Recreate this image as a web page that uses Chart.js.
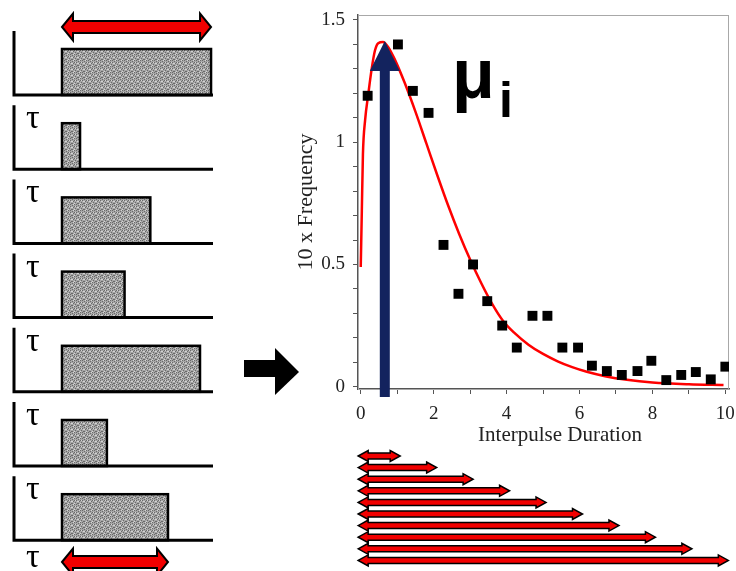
<!DOCTYPE html>
<html lang="en">
<head>
  <meta charset="UTF-8">
  <title>Interpulse Duration histogram</title>
  <script src="https://cdn.jsdelivr.net/npm/chart.js"></script>
  <style>
    html, body { margin: 0; padding: 0; background: #fff; }
    canvas { display: block; }
  </style>
</head>
<body>
<canvas id="myChart" width="736" height="571"></canvas>
<script>
  // histogram bins (10 x frequency)
  const binX = [0.19, 1.02, 1.43, 1.86, 2.27, 2.68, 3.08, 3.47, 3.88, 4.28, 4.71, 5.12,
                5.53, 5.96, 6.34, 6.75, 7.16, 7.59, 7.97, 8.38, 8.79, 9.19, 9.60, 10.0];
  const binFreq = [1.19, 1.40, 1.21, 1.12, 0.58, 0.38, 0.50, 0.35, 0.25, 0.16, 0.29, 0.29,
                   0.16, 0.16, 0.086, 0.064, 0.048, 0.064, 0.106, 0.027, 0.048, 0.06, 0.03, 0.082];

  // fitted density
  const fitX = [0, 0.03, 0.06, 0.12, 0.21, 0.3, 0.39, 0.48, 0.61, 0.75, 0.93, 1.2, 1.5, 1.8,
                2.1, 2.4, 2.7, 3.0, 3.3, 3.6, 3.9, 4.2, 4.6, 5.0, 5.4, 5.8, 6.2, 6.7,
                7.3, 8.0, 9.0, 9.95];
  const fitY = [0.49, 0.72, 0.95, 1.09, 1.2, 1.3, 1.375, 1.405, 1.41, 1.39, 1.34, 1.245, 1.125, 0.995,
                0.865, 0.74, 0.625, 0.52, 0.425, 0.34, 0.27, 0.222, 0.172, 0.134, 0.104, 0.08, 0.061, 0.043,
                0.028, 0.017, 0.01, 0.007];

  // mode of the fit (blue arrow)
  const modeX = 0.66;
  const modeY = 1.414;

  // axis ticks
  const xTicks = [0, 1, 2, 3, 4, 5, 6, 7, 8, 9, 10];
  const xTickLabels = [0, 2, 4, 6, 8, 10];
  const yTicks = [0, 0.1, 0.2, 0.3, 0.4, 0.5, 0.6, 0.7, 0.8, 0.9, 1, 1.1, 1.2, 1.3, 1.4, 1.5];
  const yTickLabels = [0, 0.5, 1, 1.5];

  // schematic pulses on the left (relative lengths) and interval arrows below the plot
  const pulseLengths = [4.05, 0.49, 2.4, 1.7, 3.75, 1.22, 2.88];
  const intervalArrows = [1, 2, 3, 4, 5, 6, 7, 8, 9, 10];

  const RED = '#f20000';
  const NAVY = '#13235e';

  // deterministic speckle tile for the grey pulse boxes
  const tile = document.createElement('canvas');
  tile.width = 6; tile.height = 6;
  const tctx = tile.getContext('2d');
  tctx.fillStyle = '#a6a6a6';
  tctx.fillRect(0, 0, 6, 6);
  tctx.fillStyle = '#6a6a6a';
  [[0,1],[2,0],[4,2],[1,3],[3,4],[5,5],[0,5],[4,0],[2,2]].forEach(p => tctx.fillRect(p[0], p[1], 1, 1));
  tctx.fillStyle = '#d4d4d4';
  [[1,0],[3,2],[5,3],[2,5],[0,3]].forEach(p => tctx.fillRect(p[0], p[1], 1, 1));

  function dblArrow(ctx, x0, x1, y, shaftH, headH, headL, lw) {
    ctx.beginPath();
    ctx.moveTo(x0, y);
    ctx.lineTo(x0 + headL, y - headH / 2);
    ctx.lineTo(x0 + headL, y - shaftH / 2);
    ctx.lineTo(x1 - headL, y - shaftH / 2);
    ctx.lineTo(x1 - headL, y - headH / 2);
    ctx.lineTo(x1, y);
    ctx.lineTo(x1 - headL, y + headH / 2);
    ctx.lineTo(x1 - headL, y + shaftH / 2);
    ctx.lineTo(x0 + headL, y + shaftH / 2);
    ctx.lineTo(x0 + headL, y + headH / 2);
    ctx.closePath();
    ctx.fillStyle = RED;
    ctx.fill();
    ctx.lineWidth = lw;
    ctx.strokeStyle = '#000';
    ctx.lineJoin = 'miter';
    ctx.stroke();
  }

  const overlay = {
    id: 'overlay',
    beforeDatasetsDraw(chart) {
      const {ctx, chartArea: a} = chart;
      ctx.save();
      ctx.strokeStyle = '#a8a8a8';
      ctx.lineWidth = 1;
      ctx.strokeRect(a.left + 0.5, a.top + 0.5, a.right - a.left - 1, a.bottom - a.top);
      ctx.restore();
    },
    afterDatasetsDraw(chart) {
      const {ctx} = chart;
      const xs = chart.scales.x, ys = chart.scales.y;
      ctx.save();
      // blue arrow at the mode
      const ax = xs.getPixelForValue(modeX);
      const tipY = ys.getPixelForValue(modeY);
      ctx.fillStyle = NAVY;
      ctx.fillRect(ax - 5, tipY + 28, 10, 397 - (tipY + 28));
      ctx.beginPath();
      ctx.moveTo(ax, tipY);
      ctx.lineTo(ax + 15, tipY + 30);
      ctx.lineTo(ax - 15, tipY + 30);
      ctx.closePath();
      ctx.fill();
      // mu_i label
      ctx.fillStyle = '#000';
      ctx.textBaseline = 'alphabetic';
      ctx.textAlign = 'left';
      ctx.font = 'bold 70px "Liberation Sans"';
      ctx.fillText('μ', 452, 98);
      ctx.font = 'bold 50px "Liberation Sans"';
      ctx.fillText('i', 499, 117);
      ctx.restore();
    },
    afterDraw(chart) {
      const {ctx} = chart;
      const xs = chart.scales.x;
      ctx.save();

      // axis titles
      ctx.fillStyle = '#222';
      ctx.textAlign = 'center';
      ctx.textBaseline = 'middle';
      ctx.font = '21px "Liberation Serif"';
      ctx.fillText('Interpulse Duration', 560, 435);
      ctx.save();
      ctx.translate(306, 202);
      ctx.rotate(-Math.PI / 2);
      ctx.font = '22px "Liberation Serif"';
      ctx.fillText('10 x Frequency', 0, 0);
      ctx.restore();

      // interval arrows under the plot, on the same x scale
      const x0 = xs.getPixelForValue(-0.07);
      intervalArrows.forEach((d, i) => {
        dblArrow(ctx, x0, xs.getPixelForValue(d) + 3, 456 + i * 11.6, 6, 11, 10, 1.5);
      });

      // pulse panels on the left
      const grey = ctx.createPattern(tile, 'repeat');
      const unit = 36.8;
      pulseLengths.forEach((len, i) => {
        const base = 95 + i * 74.2;
        const w = len * unit;
        ctx.fillStyle = grey;
        ctx.fillRect(62, base - 46, w, 46);
        ctx.strokeStyle = '#000';
        ctx.lineWidth = 2.5;
        ctx.strokeRect(62, base - 46, w, 46);
        ctx.lineWidth = 3;
        ctx.beginPath();
        ctx.moveTo(14, base - 64);
        ctx.lineTo(14, base);
        ctx.lineTo(213, base);
        ctx.stroke();
        if (i > 0) {
          ctx.fillStyle = '#000';
          ctx.textAlign = 'left';
          ctx.textBaseline = 'alphabetic';
          ctx.font = '34px "Liberation Serif"';
          ctx.fillText('τ', 26, base - 41);
        }
      });
      ctx.fillStyle = '#000';
      ctx.font = '34px "Liberation Serif"';
      ctx.textAlign = 'left';
      ctx.fillText('τ', 26, 567);

      // red duration arrows (first and last pulse)
      dblArrow(ctx, 62, 62 + pulseLengths[0] * unit, 27, 12, 27, 11, 2);
      dblArrow(ctx, 62, 62 + pulseLengths[6] * unit, 562, 12, 27, 11, 2);

      // big black arrow
      ctx.fillStyle = '#000';
      ctx.fillRect(244, 360, 32, 17);
      ctx.beginPath();
      ctx.moveTo(275, 348);
      ctx.lineTo(299, 372);
      ctx.lineTo(275, 395);
      ctx.closePath();
      ctx.fill();

      ctx.restore();
    }
  };

  const ctx = document.getElementById('myChart').getContext('2d');
  const chart = new Chart(ctx, {
    type: 'scatter',
    data: {
      datasets: [
        {
          label: 'fit',
          data: fitX.map((x, i) => ({x: x, y: fitY[i]})),
          showLine: true,
          borderColor: '#ff0000',
          borderWidth: 2.5,
          pointRadius: 0,
          cubicInterpolationMode: 'monotone',
          fill: false,
          order: 2
        },
        {
          label: 'histogram',
          data: binX.map((x, i) => ({x: x, y: binFreq[i]})),
          pointStyle: 'rect',
          pointRadius: 7,
          backgroundColor: '#000',
          borderWidth: 0,
          order: 1
        }
      ]
    },
    options: {
      responsive: false,
      animation: false,
      devicePixelRatio: 1,
      layout: { padding: { left: 300, top: 15, right: 4, bottom: 152 } },
      plugins: {
        legend: { display: false },
        tooltip: { enabled: false }
      },
      scales: {
        x: {
          type: 'linear',
          min: -0.075,
          max: 10.1,
          afterBuildTicks: s => { s.ticks = xTicks.map(v => ({value: v})); },
          afterFit: s => { s.height = 30; s.paddingLeft = 0; s.paddingRight = 0; },
          ticks: {
            autoSkip: false,
            maxRotation: 0,
            padding: 9,
            color: '#222',
            font: { family: 'Liberation Serif', size: 19 },
            callback: v => xTickLabels.includes(v) ? String(v) : ''
          },
          grid: { drawOnChartArea: false, tickLength: 5, tickColor: '#555' },
          border: { color: '#555', width: 1.5 }
        },
        y: {
          type: 'linear',
          min: -0.0094,
          max: 1.5204,
          afterBuildTicks: s => { s.ticks = yTicks.map(v => ({value: v})); },
          afterFit: s => { s.width = 58; s.paddingTop = 0; s.paddingBottom = 0; },
          ticks: {
            autoSkip: false,
            padding: 8,
            color: '#222',
            font: { family: 'Liberation Serif', size: 19 },
            callback: v => {
              const hit = yTickLabels.find(t => Math.abs(t - v) < 1e-6);
              return hit === undefined ? '' : String(hit);
            }
          },
          grid: { drawOnChartArea: false, tickLength: 5, tickColor: '#555' },
          border: { color: '#555', width: 1.5 }
        }
      }
    },
    plugins: [overlay]
  });
</script>
</body>
</html>
